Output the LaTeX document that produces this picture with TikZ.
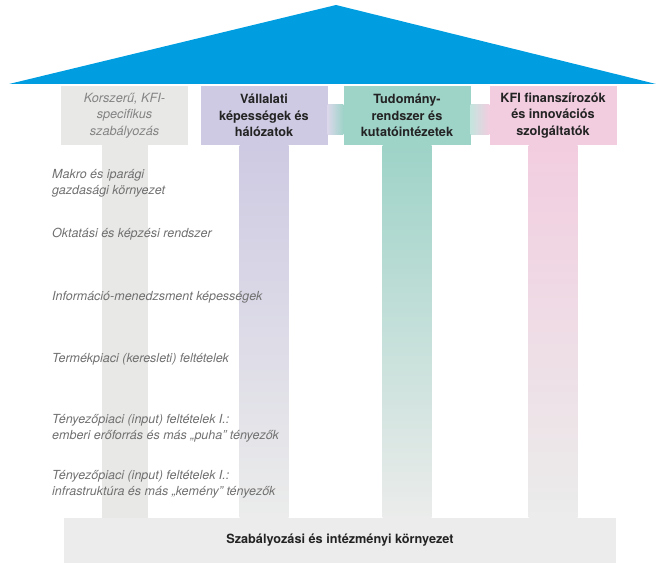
\documentclass[tikz,border=0pt]{standalone}
\usepackage{fontspec}
\setmainfont{TeX Gyre Heros}
\usetikzlibrary{calc}

\definecolor{roofC}{RGB}{0,158,224}
\definecolor{regC} {RGB}{232,232,231}
\definecolor{vallC}{RGB}{206,202,227}
\definecolor{tudC} {RGB}{158,211,200}
\definecolor{kfiC} {RGB}{242,205,224}
\definecolor{baseC}{RGB}{235,236,235}
\definecolor{inkC} {RGB}{35,35,35}
\definecolor{dimC} {RGB}{112,112,112}
\definecolor{softC}{RGB}{132,132,132}

\tikzset{
  hdr/.style    = {minimum width=127pt, minimum height=59pt, inner sep=0pt,
                   align=center, text=inkC,
                   font=\fontsize{12.7}{16.5}\selectfont\bfseries},
  lbl/.style    = {inner sep=0pt, align=left, text=dimC,
                   font=\fontsize{12.5}{16}\selectfont\itshape},
  pillar/.style = {top color=#1, bottom color=baseC},
}

\begin{document}
\begin{tikzpicture}[x=1pt, y=-1pt]
\useasboundingbox (0,0) rectangle (656,564);

% --- Roof ---
\fill[roofC] (9,84) -- (336,5) -- (656,84) -- cycle;

% --- Header boxes ---
\node[hdr, fill=regC, text=softC, font=\fontsize{12.7}{16.5}\selectfont\itshape]
  (reg) at (124.5,115.5) {Korszerű, KFI-\\specifikus\\szabályozás};
\node[hdr, fill=vallC] (vall) at (264,115.5)   {Vállalati\\képességek és\\hálózatok};
\node[hdr, fill=tudC]  (tud)  at (407,115.5)   {Tudomány-\\rendszer és\\kutatóintézetek};
\node[hdr, fill=kfiC]  (kfi)  at (553,115.5)   {KFI finanszírozók\\és innovációs\\szolgáltatók};

% --- Foundation ---
\node[fill=baseC, minimum width=552pt, minimum height=45pt, inner sep=0pt,
      text=inkC, font=\fontsize{12.7}{16}\selectfont\bfseries]
  (base) at (340,540.5) {Szabályozási és intézményi környezet};

% --- Links between the headers ---
\shade[left color=vallC!75!white, right color=tudC]
  ($(vall.east)+(0,-11)$) rectangle ($(tud.west)+(0,19)$);
\shade[left color=tudC!60!white, right color=kfiC]
  ($(tud.east)+(0,-11)$) rectangle ($(kfi.west)+(0,19)$);

% --- Pillars ---
\fill[regC] ($(reg.south)+(-23,0)$) rectangle ($(reg.south |- base.north)+(23,0)$);
\foreach \h/\c in {vall/vallC, tud/tudC, kfi/kfiC}
  \shade[pillar=\c] ($(\h.south)+(-24.5,0)$) rectangle ($(\h.south |- base.north)+(24.5,0)$);

% --- Side labels ---
\node[lbl, anchor=west]      (makro)  at (52,183) {Makro és iparági\\gazdasági környezet};
\node[lbl, anchor=base west] (okt)    at (52,237) {Oktatási és képzési rendszer};
\node[lbl, anchor=base west] (info)   at (52,300) {Információ-menedzsment képességek};
\node[lbl, anchor=base west] (term)   at (52,362) {Termékpiaci (keresleti) feltételek};
\node[lbl, anchor=west]      (puha)   at (52,428)
  {Tényezőpiaci (input) feltételek I.:\\emberi erőforrás és más „puha” tényezők};
\node[lbl, anchor=west]      (kemeny) at (52,484)
  {Tényezőpiaci (input) feltételek I.:\\infrastruktúra és más „kemény” tényezők};

\end{tikzpicture}
\end{document}
